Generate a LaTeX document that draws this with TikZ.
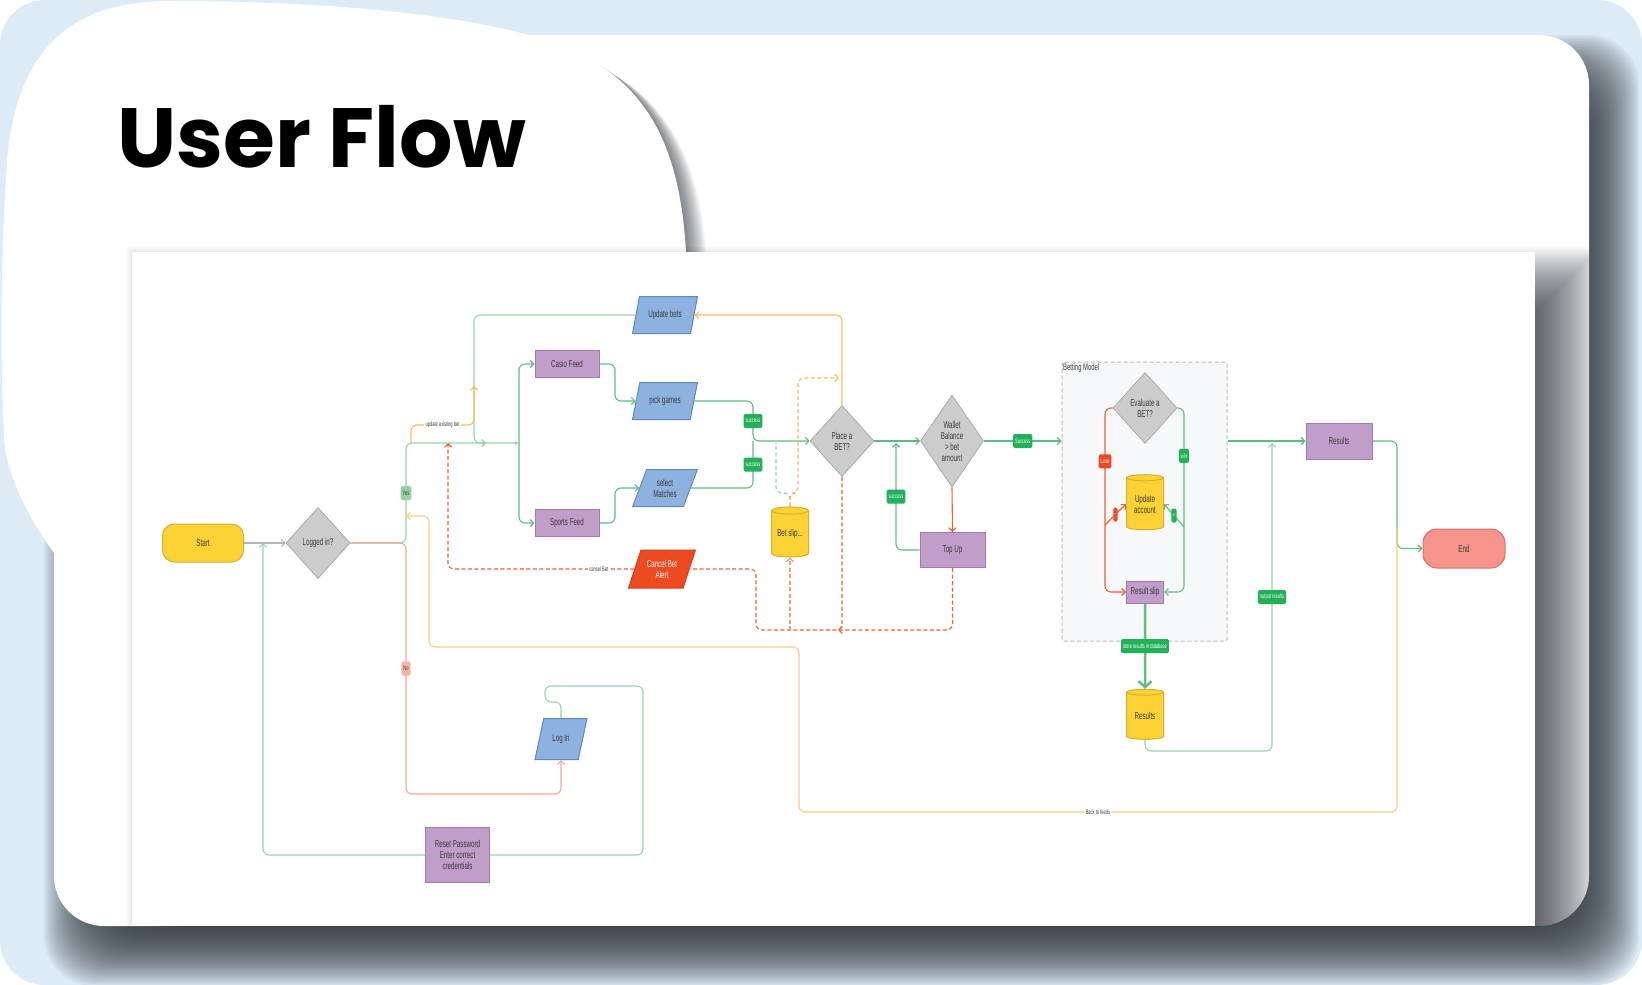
\documentclass[tikz,border=0pt]{standalone}
\usepackage{fontspec}
\usetikzlibrary{arrows.meta,shapes.geometric,calc}
\newfontfamily\dfont{Liberation Sans}[FakeStretch=0.62]
\newfontfamily\tfont{Poppins}
\definecolor{bgblue}{HTML}{DDEBF7}
\definecolor{shadowc}{HTML}{2E343B}
\definecolor{txt}{HTML}{3A3A3A}
\definecolor{yelf}{HTML}{FDD235}
\definecolor{yelb}{HTML}{D9AE2A}
\definecolor{diaf}{HTML}{CDCCCD}
\definecolor{diab}{HTML}{A9A9A9}
\definecolor{purf}{HTML}{C19DC9}
\definecolor{purb}{HTML}{A579AF}
\definecolor{bluf}{HTML}{8DB2E0}
\definecolor{blub}{HTML}{5F88C6}
\definecolor{redf}{HTML}{EE4A22}
\definecolor{redb}{HTML}{D43E19}
\definecolor{endf}{HTML}{F4948B}
\definecolor{endb}{HTML}{D67068}
\definecolor{gl}{HTML}{5FBD7E}
\definecolor{gll}{HTML}{98D4A7}
\definecolor{tagg}{HTML}{22B159}
\definecolor{ol}{HTML}{F9BC5A}
\definecolor{oll}{HTML}{FCCB85}
\definecolor{rl}{HTML}{F0602F}
\definecolor{sl}{HTML}{F5977A}
\definecolor{pl}{HTML}{F6A898}
\definecolor{grl}{HTML}{B5B5B5}
\definecolor{yestagc}{HTML}{94D29B}
\definecolor{notagc}{HTML}{F7B3A6}
\definecolor{bmfill}{HTML}{F7F8FA}
\definecolor{bmdraw}{HTML}{BDBDBD}
\pgfdeclarelayer{bglayer}
\pgfdeclarelayer{edgelayer}
\pgfsetlayers{bglayer,edgelayer,main}
\tikzset{
  lbl/.style={font=\dfont\fontsize{10}{11}\selectfont, text=txt, align=center},
  term/.style={lbl, rectangle, draw=yelb, fill=yelf, rounded corners=12pt, minimum width=81pt, minimum height=38pt, line width=1pt},
  endterm/.style={term, draw=endb, fill=endf, minimum width=82pt, minimum height=39pt, rounded corners=14pt},
  dec/.style={lbl, diamond, draw=diab, fill=diaf, line width=0.8pt, inner sep=0pt, minimum width=64pt, minimum height=71pt},
  proc/.style={lbl, rectangle, draw=purb, fill=purf, line width=1pt, minimum width=64pt, minimum height=27pt, inner sep=1pt},
  io/.style={lbl, trapezium, trapezium left angle=64, trapezium right angle=116, trapezium stretches=true, draw=blub, fill=bluf, line width=1pt, minimum width=65pt, minimum height=37pt, inner sep=0pt},
  db/.style={lbl, cylinder, shape border rotate=90, aspect=0.28, draw=yelb, fill=yelf, line width=1pt, minimum width=37pt, minimum height=50pt, inner sep=0pt},
  bmbox/.style={rectangle, draw=bmdraw, fill=bmfill, line width=1pt, dash pattern=on 4pt off 2.5pt, minimum width=165pt, minimum height=279pt, rounded corners=2pt},
  tag/.style={font=\dfont\fontsize{6.5}{7}\selectfont, text=white, fill=tagg, rounded corners=1.5pt, inner xsep=2pt, inner ysep=1pt, minimum height=14pt},
  wlab/.style={font=\dfont\fontsize{6.5}{7}\selectfont, text=txt, fill=white, inner sep=1.5pt},
  conn/.style={line width=1.1pt, rounded corners=6pt},
  dsh/.style={dash pattern=on 4pt off 2.5pt},
}
\begin{document}
\begin{tikzpicture}[x=1pt,y=-1pt, >={Straight Barb[length=3.5pt,width=7pt]}]
\useasboundingbox (0,0) rectangle (1642,985);
\begin{pgfonlayer}{bglayer}
\fill[white] (0,0) rectangle (1642,985);
\fill[bgblue, rounded corners=45pt] (0,0) rectangle (1642,985);
% card shadow
\begin{scope}
\clip[rounded corners=45pt] (0,0) rectangle (1642,985);
\foreach \i in {0,...,30} {
  \fill[shadowc, opacity=0.06, rounded corners=50pt] ({44+2*\i},{35+2*\i}) rectangle ({1639-2*\i},{986-2*\i});
}
\end{scope}
% card
\fill[white, rounded corners=50pt] (54,35) rectangle (1589,926);
% blob shadow
\begin{scope}
\clip[rounded corners=50pt] (54,35) rectangle (1589,926);
\foreach \i in {1,...,24} {
  \fill[shadowc, opacity=0.03, shift={({\i*0.9},{\i*0.6})}] (700,400) -- (686,252) .. controls (680,150) and (650,80) .. (560,45) .. controls (480,15) and (330,1) .. (170,1) .. controls (70,1) and (20,50) .. (8,150) .. controls (0,250) and (0,380) .. (5,450) .. controls (20,520) and (70,580) .. (140,650) -- (700,650) -- cycle;
}
\end{scope}
% blob
\fill[white] (700,400) -- (686,252) .. controls (680,150) and (650,80) .. (560,45) .. controls (480,15) and (330,1) .. (170,1) .. controls (70,1) and (20,50) .. (8,150) .. controls (0,250) and (0,380) .. (5,450) .. controls (20,520) and (70,580) .. (140,650) -- (700,650) -- cycle;
% panel shadow
\begin{scope}
\clip[rounded corners=50pt] (54,35) rectangle (1589,926);
\foreach \i in {0,...,35} {
  \fill[shadowc, opacity=0.035] ({127+2*\i},{247+2*\i}) rectangle ({1600-2*\i},{991-2*\i});
}
\end{scope}
% panel
\fill[white] (132,252) rectangle (1535,926);
\end{pgfonlayer}

% title
\node[anchor=base west, inner sep=0pt, font=\tfont\bfseries\fontsize{84}{88}\selectfont, text=black] (title) at (117,167) {User Flow};

% nodes
\node[term] (start) at (203,543) {Start};
\node[dec] (logged) at (318,543) {Logged in?};
\node[io] (updbets) at (665,315) {Update bets};
\node[proc] (casio) at (567,364) {Casio Feed};
\node[io] (pick) at (665,401) {pick games};
\node[io] (selm) at (665,488) {select\\Matches};
\node[proc] (sports) at (567,523) {Sports Feed};
\node[io, fill=redf, draw=redb, text=white, minimum width=67pt, minimum height=38pt] (cancel) at (662,569) {Cancel Bet\\Alert};
\node[db] (betslip) at (790,534) {Bet slip...};
\node[dec] (place) at (842,441) {Place a\\BET?};
\node[dec, minimum width=63pt, minimum height=92pt, aspect=0.7] (wallet) at (952,441) {Wallet\\Balance\\> bet\\amount};
\node[proc, minimum width=65pt, minimum height=35pt] (topup) at (952.5,550) {Top Up};
\node[dec] (eval) at (1145,408) {Evaluate a\\BET?};
\node[db, minimum height=55pt] (updacc) at (1145,504) {Update\\account};
\node[proc, minimum width=37pt, minimum height=22pt] (rslip) at (1145,592) {Result slip};
\node[db] (resdb) at (1145,716) {Results};
\node[proc, minimum width=66pt, minimum height=36pt] (results) at (1339,441) {Results};
\node[endterm] (end) at (1464,548.5) {End};
\node[io, minimum width=52pt, minimum height=41pt] (login) at (561,739) {Log In};
\node[proc, minimum width=64pt, minimum height=55pt] (reset) at (457.5,855) {Reset Password\\Enter correct\\credentials};

% junction coordinates
\coordinate (jl) at (406,543);
\coordinate (jyes) at (406,443);
\coordinate (split) at (519,443);
\coordinate (ubin) at (486,443);
\coordinate (uex) at (411,443);
\coordinate (uextip) at (474,386);
\coordinate (sjoin) at (753,441);
\coordinate (bsj) at (790,493);
\coordinate (bsg) at (776,441);
\coordinate (bso) at (839,378);
\coordinate (tupin) at (896,443);
\coordinate (dj) at (838,630);
\coordinate (pj) at (842,630);
\coordinate (bsb) at (790,630);
\coordinate (cfeed) at (448,443);
\coordinate (lj) at (1105,525);
\coordinate (wj) at (1184,527);
\coordinate (outin) at (1272,443);
\coordinate (bk) at (1397,527);
\coordinate (bktip) at (406,516);
\coordinate (rtip) at (263,543);

\begin{pgfonlayer}{edgelayer}
\node[bmbox] (bm) at (1144.5,501.5) {};
\node[anchor=north west, inner sep=1.5pt, font=\dfont\fontsize{9.5}{10}\selectfont, text=txt] (bmlabel) at (bm.north west) {Betting Model};
\draw[conn, draw=grl, ->] (start.east) -- (logged.west);
\draw[conn, draw=gll, -{Latex[length=4pt,width=4pt]}] (logged.east) -- (jl) -- node[tag, fill=yestagc, text=txt]{Yes} (jyes) -- (split);
\draw[conn, draw=pl, ->] (logged.east) -- (jl) -- node[tag, fill=notagc, text=txt]{No} (406,794) -| (login.south);
\draw[conn, draw=gl, ->] (split) |- (casio.west);
\draw[conn, draw=gl, ->] (split) |- (sports.west);
\draw[conn, draw=gll, ->] (updbets.west) -| (474,443) -- (ubin);
\draw[conn, draw=ol, ->] (uex) -- (411,425) -- node[wlab]{update existing bet} (474,425) -- (uextip);
\draw[conn, draw=gl, ->] (casio.east) -- (615,364) -- (615,401) -- (pick.west);
\draw[conn, draw=gl, ->] (sports.east) -- (615,523) -- (615,488) -- (selm.west);
\draw[conn, draw=gl, ->] (pick.east) -- (753,401) -- node[tag]{success} (sjoin) -- (place.west);
\draw[conn, draw=gl] (selm.east) -- (753,488) -- node[tag]{success} (sjoin);
\draw[conn, draw=gll, dsh] (betslip.north) -- (bsj) -- (776,493) -- (bsg);
\draw[conn, draw=ol, dsh, ->] (betslip.north) -- (bsj) -- (798,493) -- (798,378) -- (bso);
\draw[conn, draw=ol, ->] (place.north) |- (updbets.east);
\draw[conn, draw=gl, ->] (place.east) -- (wallet.west);
\draw[conn, draw=rl, ->] (wallet.south) -- (topup.north);
\draw[conn, draw=gl, ->] (topup.west) -| node[tag, pos=0.75]{success} (tupin);
\draw[conn, draw=gl, ->] (wallet.east) -- node[tag]{Success} (bm.west |- wallet.east);
\draw[conn, draw=rl, dsh, ->] (topup.south) |- (dj);
\draw[conn, draw=rl, dsh] (place.south) -- (pj) -- (756,630) -- (756,569) -- (cancel.east);
\draw[conn, draw=sl, dsh, ->] (bsb) -- (betslip.south);
\draw[conn, draw=rl, dsh, ->] (cancel.west) -- node[wlab, pos=0.19]{cancel Bet} (448,569) -- (cfeed);
% betting model
\draw[conn, draw=rl, ->] (eval.west) -- (1105,408) -- node[tag, fill=redf, pos=0.29]{Lose} (1105,592) -- (rslip.west);
\draw[conn, draw=rl, ->] (lj) -- node[tag, fill=redf, inner xsep=1.5pt]{-} (updacc.west);
\draw[conn, draw=gl, ->] (eval.east) -- (1184,408) -- node[tag, pos=0.26]{win} (1184,592) -- (rslip.east);
\draw[conn, draw=gl, ->] (wj) -- node[tag, inner xsep=1.5pt]{+} (updacc.east);
\draw[conn, draw=gl, line width=2.5pt, -{Straight Barb[length=6pt,width=13pt]}] (rslip.south) -- node[tag]{store results in database} (resdb.north);
\draw[conn, draw=gll, ->] (resdb.south) -- (1145,751) -| node[tag, pos=0.75]{output results} (outin);
\draw[conn, draw=gl, ->] (bm.east |- results.west) -- (results.west);
\draw[conn, draw=gl, ->] (results.east) -- (1397,441) |- (end.west);
\draw[conn, draw=oll, ->] (bk) -- (1397,812) -- node[wlab]{Back to feeds} (799,812) -- (799,647) -- (429,647) -- (429,516) -- (bktip);
% login loop
\draw[conn, draw=gll] (login.north) -- ++(0,-16) -- ++(-16,0) |- (643,686) |- (reset.east);
\draw[conn, draw=gll, ->] (reset.west) -| (rtip);
\end{pgfonlayer}
\end{tikzpicture}
\end{document}
